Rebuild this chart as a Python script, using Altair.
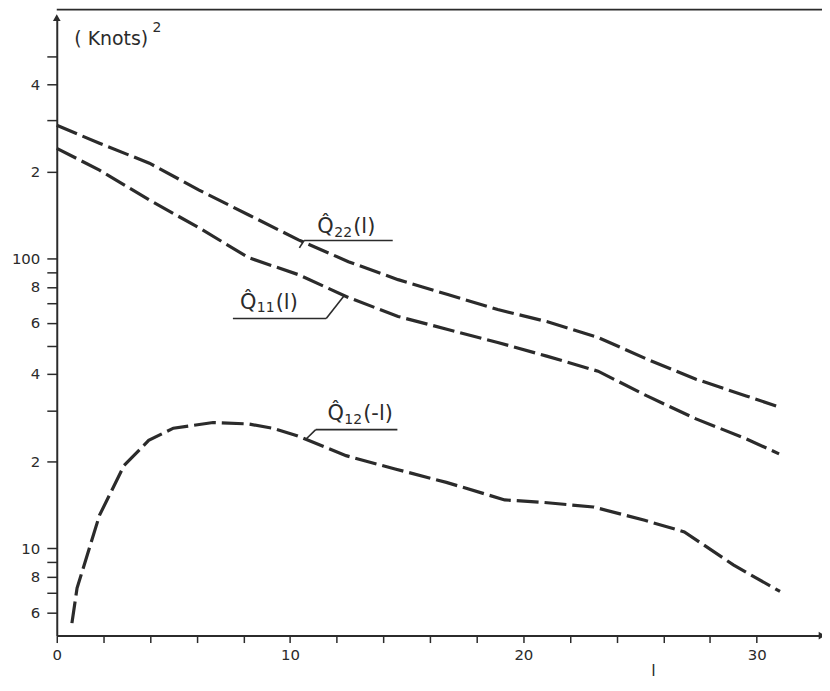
import altair as alt
import pandas as pd

# ---- data ----
lag_upper = [0, 1.83, 3.97, 6.1, 8.23, 10.36, 12.5, 14.63, 16.76, 18.9, 21.0, 23.2, 25.3, 27.4, 29.55, 30.96]
q22 = [288.8, 250.4, 213.8, 172.6, 141.6, 116.2, 97.7, 84.7, 75.2, 66.8, 60.7, 53.5, 45.0, 38.4, 33.6, 30.8]
q11 = [240.6, 202.2, 159.5, 127.8, 100.8, 88.1, 73.5, 63.2, 57.0, 51.4, 46.1, 40.9, 33.6, 28.0, 23.9, 21.2]

lag_q12 = [0.65, 0.87, 1.83, 2.88, 3.94, 5.0, 6.7, 8.2, 9.25, 10.3, 12.4, 14.5, 16.7, 19.2, 20.9, 23.0, 25.2, 26.9, 29.0, 31.0]
q12 = [5.52, 7.29, 13.0, 19.3, 23.6, 26.0, 27.2, 26.9, 26.0, 24.5, 20.9, 18.8, 16.9, 14.7, 14.4, 13.9, 12.5, 11.4, 8.77, 7.10]

y_tick_values = [6, 7, 8, 9, 10, 20, 30, 40, 50, 60, 70, 80, 90, 100, 200, 300, 400, 500]
y_tick_labels = {6: "6", 8: "8", 10: "10", 20: "2", 40: "4", 60: "6", 80: "8", 100: "100", 200: "2", 400: "4"}
x_tick_values = list(range(0, 31, 2))
x_tick_labels = [0, 10, 20, 30]

# curve labels: symbol, subscript, argument
label_sym = ["Q\u0302", "Q\u0302", "Q\u0302"]
label_sub = ["22", "11", "12"]
label_arg = ["(l)", "(l)", "(-l)"]
label_l = [11.17, 7.85, 11.6]
label_v = [128.8, 70.6, 29.1]
# underline + leader lines (start/end in data units)
lead_l1 = [10.6, 7.55, 11.1, 10.4, 11.55, 10.7]
lead_l2 = [14.4, 11.55, 14.6, 10.6, 12.3, 11.1]
lead_v1 = [115.6, 62.2, 25.7, 109, 62.2, 23.9]
lead_v2 = [115.6, 62.2, 25.7, 115.6, 74.2, 25.7]

Y_DOMAIN = [5, 680]
X_DOMAIN = [0, 32.8]
INK = "#2b2b2b"
FONT = "DejaVu Sans"

rows = []
for name, ls, vs in [("Q22", lag_upper, q22), ("Q11", lag_upper, q11), ("Q12", lag_q12, q12)]:
    for l, v in zip(ls, vs):
        rows.append({"series": name, "l": l, "v": v})
df = pd.DataFrame(rows)

labels_df = pd.DataFrame({"l": label_l, "v": label_v, "sym": label_sym,
                          "sub": label_sub, "arg": label_arg})
leads_df = pd.DataFrame({"l1": lead_l1, "l2": lead_l2, "v1": lead_v1, "v2": lead_v2})

ylab_expr = " : ".join(
    f"datum.value == {k} ? '{t}'" for k, t in y_tick_labels.items()
) + " : ''"
xlab_expr = "indexof([" + ",".join(str(v) for v in x_tick_labels) + "], datum.value) >= 0 ? datum.label : ''"

xscale = alt.Scale(domain=X_DOMAIN, nice=False, zero=False)
yscale = alt.Scale(type="log", domain=Y_DOMAIN, nice=False)

x_axis = alt.Axis(
    values=x_tick_values, labelExpr=xlab_expr, grid=False, tickSize=7, tickColor=INK,
    domainColor=INK, domainWidth=2, tickWidth=1.5, labelFontSize=15, labelColor=INK,
    labelFont=FONT, labelPadding=5, title="l", titleFont=FONT, titleFontSize=16,
    titleFontWeight="normal", titleColor=INK, titleX=599, titleY=27, labelFlush=False,
)
y_axis = alt.Axis(
    values=y_tick_values, labelExpr=ylab_expr, grid=False, tickSize=10, tickColor=INK,
    domainColor=INK, domainWidth=2, tickWidth=1.5, labelFontSize=15, labelColor=INK,
    labelFont=FONT, labelPadding=7, title=None, labelOverlap=False, labelFlush=False,
)

lines = alt.Chart(df).mark_line(
    color=INK, strokeWidth=3.2, strokeDash=[22, 6], strokeCap="butt"
).encode(
    x=alt.X("l:Q", scale=xscale, axis=x_axis),
    y=alt.Y("v:Q", scale=yscale, axis=y_axis),
    detail="series:N",
    order="l:Q",
)

base_lbl = alt.Chart(labels_df).encode(x=alt.X("l:Q", scale=xscale), y=alt.Y("v:Q", scale=yscale))
sym = base_lbl.mark_text(font=FONT, fontSize=21, color=INK, align="left", baseline="middle").encode(text="sym:N")
sub = base_lbl.mark_text(font=FONT, fontSize=14, color=INK, align="left", baseline="middle",
                         dx=17, dy=6).encode(text="sub:N")
arg = base_lbl.mark_text(font=FONT, fontSize=21, color=INK, align="left", baseline="middle",
                         dx=36).encode(text="arg:N")

leads = alt.Chart(leads_df).mark_rule(color=INK, strokeWidth=1.6).encode(
    x=alt.X("l1:Q", scale=xscale), x2="l2:Q",
    y=alt.Y("v1:Q", scale=yscale), y2="v2:Q",
)

unit_df = pd.DataFrame({"l": [0.75, 4.1], "v": [575, 625], "text": ["( Knots)", "2"],
                        "size": [19, 14]})
unit = alt.Chart(unit_df).mark_text(
    font=FONT, color=INK, align="left", baseline="middle"
).encode(x=alt.X("l:Q", scale=xscale), y=alt.Y("v:Q", scale=yscale), text="text:N",
         size=alt.Size("size:Q", scale=None, legend=None))

arrows_df = pd.DataFrame({"l": [0, X_DOMAIN[1]], "v": [Y_DOMAIN[1], Y_DOMAIN[0]],
                          "shape": ["triangle-up", "triangle-right"]})
arrows = alt.Chart(arrows_df).mark_point(filled=True, color=INK, size=60, opacity=1).encode(
    x=alt.X("l:Q", scale=xscale), y=alt.Y("v:Q", scale=yscale),
    shape=alt.Shape("shape:N", scale=None),
)

frame = alt.Chart(pd.DataFrame({"a": [0]})).mark_rule(color=INK, strokeWidth=1.8).encode(
    x=alt.value(0), x2=alt.value(780), y=alt.value(-8)
)

chart = alt.layer(lines, leads, sym, sub, arg, unit, arrows, frame).properties(
    width=769, height=621,
    padding={"left": 49, "top": 8, "right": 0, "bottom": 46},
    autosize=alt.AutoSizeParams(type="none"),
    background="white",
).configure_view(stroke=None)

chart.save("out.html", embed_options={"renderer": "svg", "actions": False})
